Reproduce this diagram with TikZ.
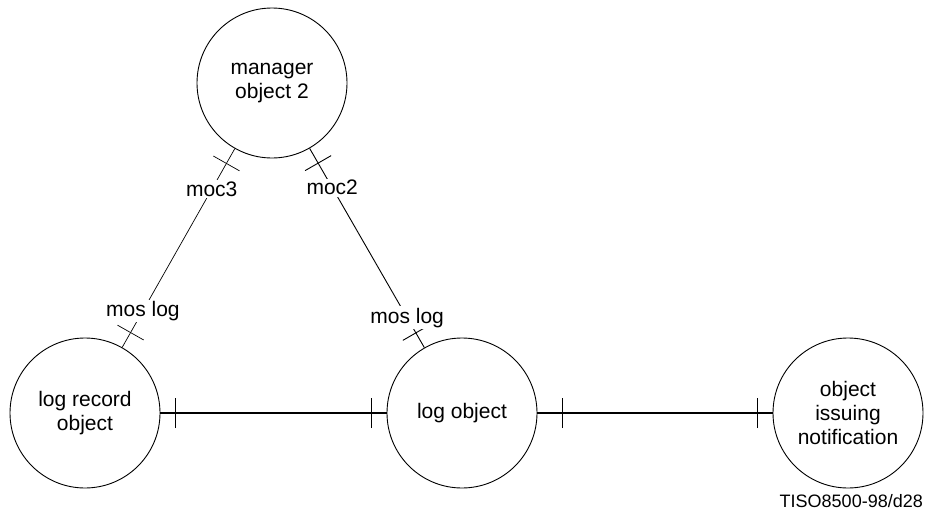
\documentclass[tikz,border=0pt]{standalone}
\usepackage{fontspec}
\setmainfont{Liberation Sans}
\usetikzlibrary{decorations.markings}
\begin{document}
\begin{tikzpicture}[x=1pt,y=-1pt]
\tikzset{objet/.style={draw, circle, minimum size=150pt, inner sep=0pt, align=center, line width=0.9pt, font=\fontsize{21}{24}\selectfont},
  etiq/.style={fill=white, inner sep=1.5pt, font=\fontsize{21}{24}\selectfont},
  barres/.style n args={3}{postaction={decorate}, decoration={markings,
    mark=at position #1 with {\draw[line width=#3] (0,-15pt) -- (0,15pt);},
    mark=at position -#2 with {\draw[line width=#3] (0,-15pt) -- (0,15pt);}}}}
\useasboundingbox (0,0) rectangle (926,514);
\node[objet] (M) at (272,83) {manager\\object 2};
\node[objet] (LR) at (85,413) {log record\\object};
\node[objet] (LO) at (462,413) {log object};
\node[objet] (ON) at (848,413) {object\\issuing\\notification};
\draw[line width=0.7pt, barres={17pt}{17pt}{0.7pt}] (M) -- (LR)
  node[etiq, pos=0.205] (m3) {moc3} node[etiq, pos=0.816] (ml1) {mos log};
\draw[line width=0.9pt, barres={17pt}{17pt}{0.9pt}] (M) -- (LO)
  node[etiq, pos=0.197] (m2) {moc2} node[etiq, pos=0.85] (ml2) {mos log};
\draw[line width=1.5pt, barres={15pt}{15pt}{1.5pt}] (LR) -- (LO);
\draw[line width=1.5pt, barres={25pt}{15pt}{1.5pt}] (LO) -- (ON);
\node[anchor=south east, inner sep=0pt, font=\fontsize{18}{20}\selectfont] (ref) at (923,508) {TISO8500-98/d28};
\end{tikzpicture}
\end{document}
